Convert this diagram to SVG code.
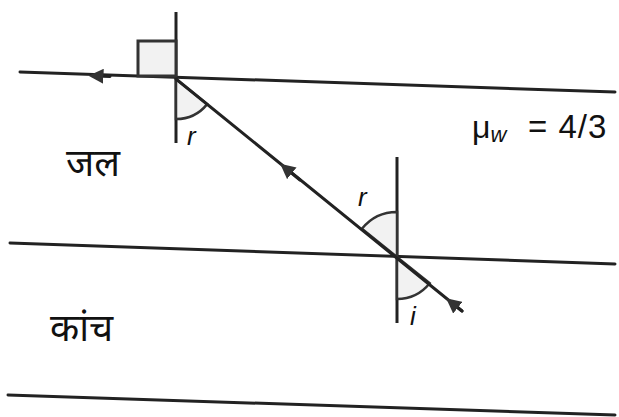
<svg xmlns="http://www.w3.org/2000/svg" width="619" height="417" viewBox="0 0 619 417">
<style>
.ln{stroke:#222;stroke-width:3;fill:none;stroke-linecap:round}
.nm{stroke:#222;stroke-width:3;fill:none}
.arc{stroke:#333;stroke-width:2.5;fill:#f2f2f2}
.lbl{font-family:"Liberation Sans",Arial,sans-serif;fill:#111}
.hi{font-family:"Noto Sans","Noto Sans Devanagari","Lohit Devanagari",sans-serif;fill:#111}
</style>
<defs>
<marker id="ah" viewBox="0 0 10 10" refX="5" refY="5" markerWidth="5" markerHeight="5" orient="auto">
<path d="M0,0 L10,5 L0,10 Z" fill="#333"/>
</marker>
</defs>
<g id="surfaces">
<line class="ln" x1="20" y1="72" x2="615" y2="92"/>
<line class="ln" x1="10" y1="243" x2="615" y2="264"/>
<line class="ln" x1="8" y1="395" x2="615" y2="415"/>
</g>
<g id="normal1">
<line class="nm" x1="176" y1="12" x2="176" y2="143"/>
<rect x="138" y="41" width="38" height="35" fill="#f2f2f2" stroke="#333" stroke-width="3"/>
<path class="arc" d="M176,79 L176,119 A40,40 0 0 0 207.2,104.1 Z"/>
<text class="lbl" x="187" y="145" font-size="26" font-style="italic">r</text>
</g>
<g id="normal2">
<line class="nm" x1="397" y1="157" x2="397" y2="323"/>
<path class="arc" d="M397,257 L361.9,228.8 A45,45 0 0 1 397,212 Z"/>
<path class="arc" d="M397,257 L397,299 A42,42 0 0 0 429.7,283.3 Z"/>
<text class="lbl" x="358" y="206" font-size="26" font-style="italic">r</text>
<text class="lbl" x="410" y="325" font-size="26" font-style="italic">i</text>
</g>
<g id="connectors">
<line class="ln" x1="176" y1="79" x2="462" y2="311"/>
<line class="ln" x1="110" y1="76.5" x2="96" y2="76" marker-end="url(#ah)" stroke-width="2.5"/>
<line class="ln" x1="300" y1="180" x2="286" y2="168.6" marker-end="url(#ah)"/>
<line class="ln" x1="462" y1="311" x2="452" y2="303" marker-end="url(#ah)"/>
</g>
<g id="labels">
<text class="lbl" x="472" y="138" font-size="32">μ<tspan font-size="22" font-style="italic" dy="4">w</tspan></text>
<text class="lbl" x="528" y="138" font-size="33" letter-spacing="1">= 4/3</text>
<text class="hi" x="66" y="176" font-size="38">जल</text>
<text class="hi" x="50" y="341" font-size="38">कांच</text>
</g>
</svg>
